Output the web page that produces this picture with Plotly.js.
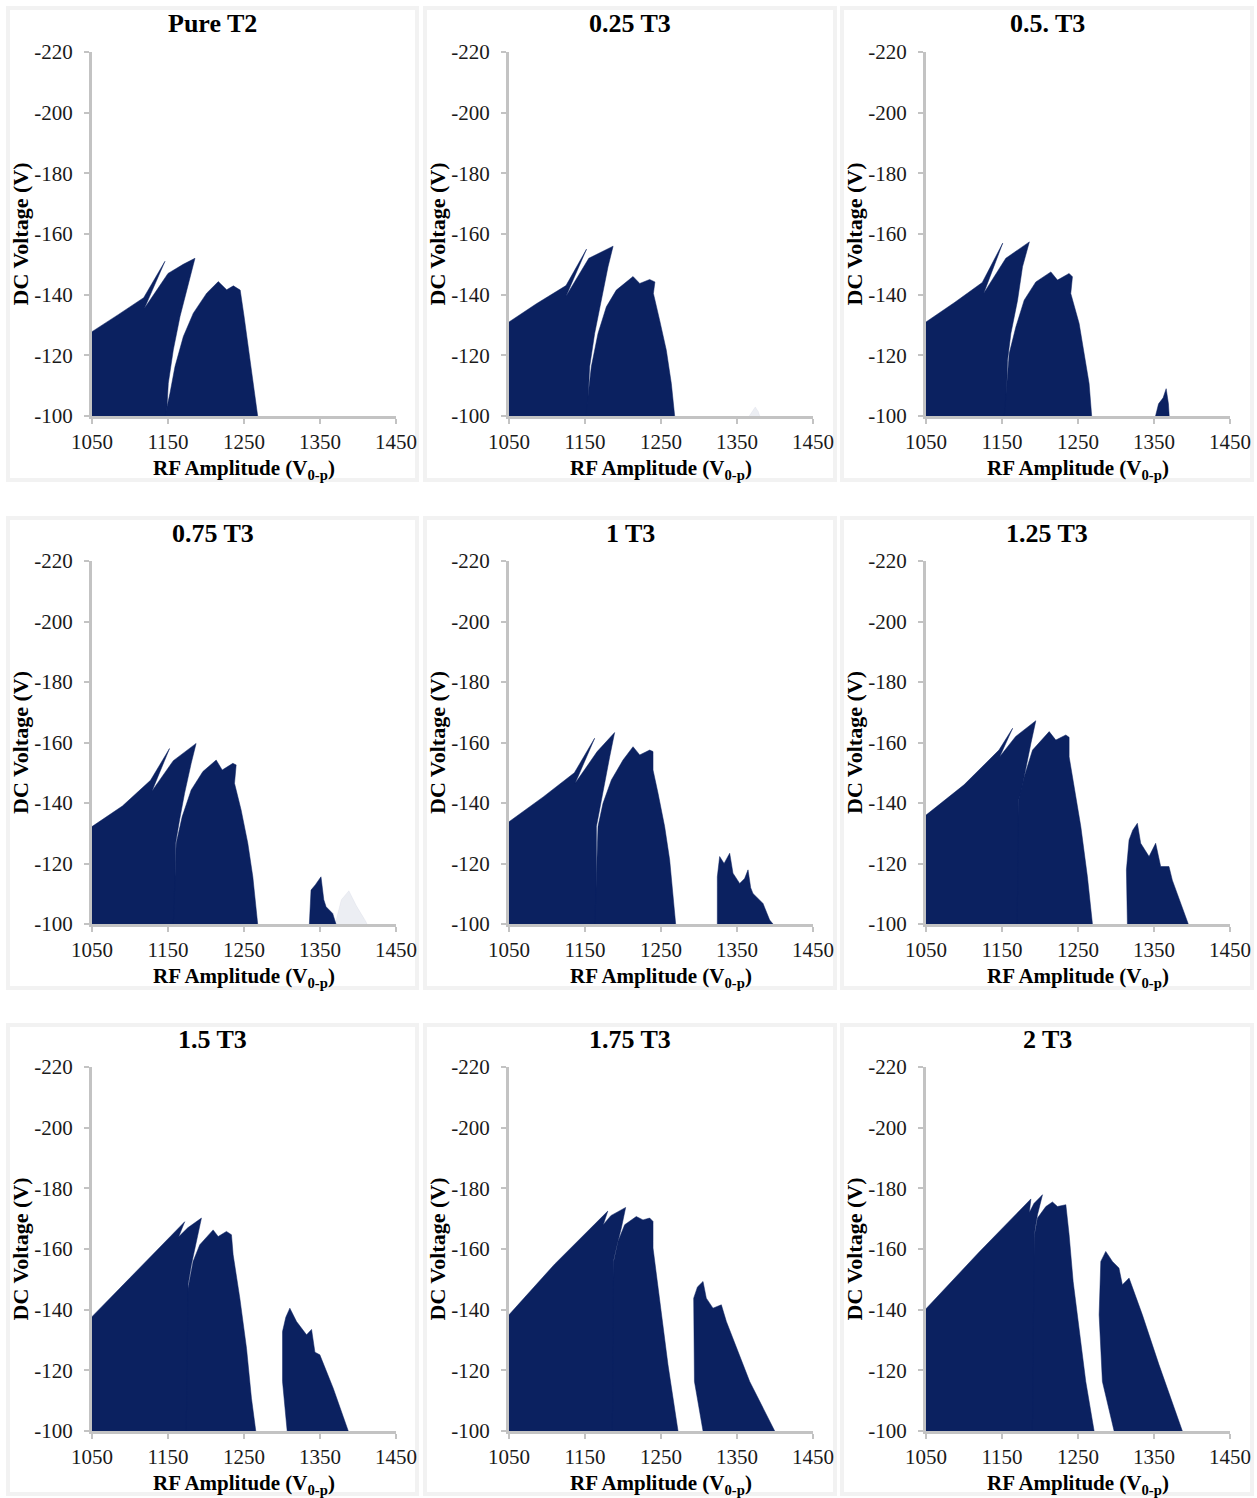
<!DOCTYPE html>
<html>
<head>
<meta charset="utf-8">
<script src="https://cdn.plot.ly/plotly-3.0.1.min.js"></script>
<style>html,body{margin:0;padding:0;background:#fff;}#chart{width:1257px;height:1498px;}</style>
</head>
<body>
<div id="chart"></div>
<script>
// ---------- DATA ----------
const panelTitles = ["Pure T2", "0.25 T3", "0.5. T3", "0.75 T3", "1 T3", "1.25 T3", "1.5 T3", "1.75 T3", "2 T3"];
const xTickVals = [1050, 1150, 1250, 1350, 1450];
const xTickText = ["1050", "1150", "1250", "1350", "1450"];
const yTickVals = [-220, -200, -180, -160, -140, -120, -100];
const yTickText = ["-220", "-200", "-180", "-160", "-140", "-120", "-100"];
const xTitle = "RF Amplitude (V<sub>0-p</sub>)";
const yTitle = "DC Voltage (V)";

// Pure T2
const p1_leftX = [1050, 1050, 1085, 1118, 1146, 1119, 1150, 1170, 1185.5, 1176.8, 1165.8, 1157, 1150.4, 1148];
const p1_leftY = [-100, -127.8, -133.5, -139, -151, -135.5, -147, -150, -152, -143.7, -132.8, -121.8, -110.8, -100];
const p1_midX = [1146, 1152.6, 1159.2, 1170.2, 1183.3, 1200.9, 1216.2, 1227.2, 1236, 1245, 1250, 1256, 1262, 1268];
const p1_midY = [-100, -107.5, -116.3, -126.2, -133.9, -140.5, -144.3, -141.6, -142.9, -141.5, -133, -122, -111, -100];
const p1_islandX = [];
const p1_islandY = [];

// 0.25 T3
const p2_leftX = [1050, 1050, 1086, 1125, 1152, 1125, 1155, 1187, 1180.3, 1171.5, 1162.7, 1156.1, 1153];
const p2_leftY = [-100, -131, -137, -143, -155, -139.5, -152, -156, -149.2, -138.2, -127.2, -116.2, -100];
const p2_midX = [1151, 1158.3, 1167.1, 1178.1, 1191.2, 1213.2, 1222, 1235.1, 1242, 1240, 1248.2, 1257, 1263.6, 1268];
const p2_midY = [-100, -116.2, -127.2, -136, -141.5, -146, -143.7, -145, -144.2, -140.4, -131.6, -121.7, -110.7, -100];
const p2_islandX = [1366, 1370, 1374, 1378, 1380];
const p2_islandY = [-100, -101.5, -103, -101.5, -100];

// 0.5. T3
const p3_leftX = [1050, 1050, 1088, 1124, 1151, 1126, 1155, 1186, 1177, 1170.5, 1161.7, 1157.3, 1155];
const p3_leftY = [-100, -131, -137.5, -144, -157, -140.5, -152, -157.4, -149.2, -138.2, -127.2, -118.4, -100];
const p3_midX = [1153, 1159.5, 1168.3, 1179.2, 1194.5, 1214.3, 1223, 1238.3, 1242.7, 1240.5, 1251.5, 1258, 1264.6, 1268];
const p3_midY = [-100, -120.6, -129.4, -138.2, -144.2, -147.5, -144.8, -147, -145.9, -140.4, -130.5, -120.6, -110.7, -100];
const p3_islandX = [1352, 1356, 1362, 1366, 1369, 1370];
const p3_islandY = [-100, -104, -106, -109, -104, -100];

// 0.75 T3
const p4_leftX = [1050, 1050, 1090, 1127, 1152, 1129, 1157, 1187, 1180.5, 1171.8, 1165.2, 1160, 1159];
const p4_leftY = [-100, -132.2, -139, -147.5, -158, -144, -154, -159.7, -153.1, -143.2, -134.4, -126.7, -100];
const p4_midX = [1157, 1160.8, 1168.7, 1180.5, 1195.9, 1213.4, 1221.3, 1235.3, 1239.7, 1237.5, 1246.2, 1255, 1261.6, 1268];
const p4_midY = [-100, -126.7, -135.5, -144.3, -150.4, -154.2, -150.9, -153.1, -152.6, -146.5, -137.7, -126.7, -115.6, -100];
const p4_islandX = [1336, 1338.2, 1344, 1351.3, 1355, 1358, 1366.7, 1371];
const p4_islandY = [-100, -111.2, -113, -115.6, -108, -105.7, -103.5, -100];
const p4_faintX = [1370, 1378, 1388, 1398, 1410, 1412];
const p4_faintY = [-100, -108, -111, -106, -101, -100];

// 1 T3
const p5_leftX = [1050, 1050, 1095, 1136, 1162.7, 1137, 1166, 1189, 1182.5, 1175.9, 1169.3, 1165, 1165];
const p5_leftY = [-100, -133.8, -142, -150, -161.4, -146.5, -157, -163.3, -155.3, -146.5, -137.7, -132.2, -100];
const p5_midX = [1163, 1167.1, 1173.7, 1184.7, 1200, 1213.2, 1222, 1235.1, 1239.5, 1239.5, 1246.1, 1254.8, 1261.4, 1269.3];
const p5_midY = [-100, -132.2, -139.9, -147.6, -154.2, -158.6, -155.9, -157.5, -157, -150.9, -143.2, -132.2, -121.2, -100];
const p5_islandX = [1324.1, 1324.1, 1327.2, 1333, 1340.4, 1344.7, 1353.5, 1360, 1364.5, 1368, 1371, 1384.2, 1393, 1397.4];
const p5_islandY = [-100, -115.6, -122.3, -120, -123.4, -116.8, -113.4, -115, -117.9, -112, -110.1, -106.8, -101.3, -100];

// 1.25 T3
const p6_leftX = [1050, 1050, 1100, 1146, 1164, 1147, 1168, 1194.5, 1188, 1181.4, 1174.8, 1171.8, 1176];
const p6_leftY = [-100, -136, -146, -157.5, -164.7, -155.3, -162, -167.2, -159.7, -150.9, -143.2, -141, -100];
const p6_midX = [1170, 1171.8, 1179.2, 1190.2, 1212.1, 1220.8, 1234, 1238.3, 1238.3, 1244.9, 1253.7, 1262.4, 1269];
const p6_midY = [-100, -141, -148.7, -157.5, -163.6, -160.8, -162.5, -161.7, -155.3, -145.4, -132.2, -115.6, -100];
const p6_islandX = [1315, 1313.7, 1317.2, 1322, 1328.1, 1332.5, 1343.5, 1352.2, 1358.8, 1369.7, 1374.1, 1395.1];
const p6_islandY = [-100, -117.9, -127.8, -131, -133.3, -126.7, -122.3, -126.7, -119, -119, -114.5, -100];

// 1.5 T3
const p7_leftX = [1050, 1050, 1100, 1160, 1172, 1164, 1176, 1194, 1187.4, 1180.8, 1176.4, 1180];
const p7_leftY = [-100, -137.7, -150.5, -166, -169, -164, -167, -170.2, -162.5, -154.8, -148.2, -100];
const p7_midX = [1174, 1176.4, 1183, 1191.8, 1209.4, 1216, 1226.9, 1233.5, 1235.7, 1244.5, 1253.3, 1259.8, 1265.5];
const p7_midY = [-100, -147.1, -155.9, -161.4, -166.3, -164.1, -165.8, -164.7, -158.1, -143.8, -127.3, -110.8, -100];
const p7_islandX = [1306.8, 1300.7, 1300.7, 1305, 1310.3, 1319.1, 1332.3, 1338.9, 1343.3, 1349.8, 1367.4, 1387.2];
const p7_islandY = [-100, -116.3, -132.8, -137.5, -140.5, -136.1, -131.7, -133.5, -126, -125.1, -114.1, -100];

// 1.75 T3
const p8_leftX = [1050, 1050, 1110, 1170, 1180, 1174, 1184, 1203.5, 1197.8, 1191.2, 1187.7, 1192];
const p8_leftY = [-100, -138.3, -155, -170, -172.5, -168, -171, -173.7, -166.9, -160.3, -156.4, -100];
const p8_midX = [1186, 1187.7, 1193.4, 1202.2, 1217.5, 1226.3, 1235.1, 1239.5, 1239.5, 1248.2, 1259.2, 1272.4];
const p8_midY = [-100, -155.9, -162.5, -168, -170.7, -169.6, -170.2, -169.1, -160.3, -143.8, -121.8, -100];
const p8_islandX = [1305.3, 1294, 1293, 1298, 1305.3, 1309.6, 1318.4, 1329.4, 1336, 1366.7, 1399.6];
const p8_islandY = [-100, -116.3, -143.8, -147.5, -149.3, -143.8, -140.5, -141.6, -136.1, -116.3, -100];

// 2 T3
const p9_leftX = [1050, 1050, 1120, 1180, 1188, 1186, 1192, 1203.3, 1196.7, 1193.7, 1192.4, 1196];
const p9_leftY = [-100, -140.3, -159, -174.5, -176.5, -172, -175, -177.9, -171.3, -166.9, -164.1, -100];
const p9_midX = [1190, 1192.4, 1196.7, 1207.7, 1216.4, 1223, 1234, 1238.3, 1243.6, 1251.5, 1260.2, 1271.2];
const p9_midY = [-100, -164.1, -170.2, -174, -175.5, -174, -174.6, -164.7, -149.3, -132.8, -116.3, -100];
const p9_islandX = [1297.5, 1282.1, 1277.8, 1280, 1286.5, 1295.3, 1303.9, 1308.4, 1317.2, 1334.7, 1356.6, 1387.3];
const p9_islandY = [-100, -116.3, -138.3, -155.9, -159.2, -155.9, -153.7, -148.2, -150.4, -138.3, -121.8, -100];

// ---------- BUILD ----------
const panels = [
  [[p1_leftX, p1_leftY], [p1_midX, p1_midY], [p1_islandX, p1_islandY]],
  [[p2_leftX, p2_leftY], [p2_midX, p2_midY], [p2_islandX, p2_islandY, 'faint']],
  [[p3_leftX, p3_leftY], [p3_midX, p3_midY], [p3_islandX, p3_islandY]],
  [[p4_leftX, p4_leftY], [p4_midX, p4_midY], [p4_islandX, p4_islandY], [p4_faintX, p4_faintY, 'faint']],
  [[p5_leftX, p5_leftY], [p5_midX, p5_midY], [p5_islandX, p5_islandY]],
  [[p6_leftX, p6_leftY], [p6_midX, p6_midY], [p6_islandX, p6_islandY]],
  [[p7_leftX, p7_leftY], [p7_midX, p7_midY], [p7_islandX, p7_islandY]],
  [[p8_leftX, p8_leftY], [p8_midX, p8_midY], [p8_islandX, p8_islandY]],
  [[p9_leftX, p9_leftY], [p9_midX, p9_midY], [p9_islandX, p9_islandY]]
];

const W = 1257, H = 1498;
const FONT = '"Liberation Serif", "Times New Roman", Times, serif';
const NAVY = '#0b2160';
const cols = [[92, 396], [509, 813], [926, 1230]];
const rows = [[52, 416], [561, 924], [1067, 1431]];
const boxX = [[8, 417], [425, 835], [842, 1252]];
const boxY = [[8, 480], [518, 988], [1025, 1494]];

const traces = [];
const layout = {
  width: W, height: H,
  margin: {l: 0, r: 0, t: 0, b: 0},
  paper_bgcolor: '#ffffff', plot_bgcolor: 'rgba(0,0,0,0)',
  showlegend: false,
  annotations: [], shapes: []
};

panels.forEach((regions, i) => {
  const r = Math.floor(i / 3), c = i % 3;
  const s = i === 0 ? '' : String(i + 1);
  regions.forEach(reg => {
    if (!reg[0].length) return;
    const faint = reg[2] === 'faint';
    traces.push({
      type: 'scatter', mode: 'lines', x: reg[0], y: reg[1],
      xaxis: 'x' + s, yaxis: 'y' + s,
      fill: 'toself',
      fillcolor: faint ? 'rgba(11,33,96,0.08)' : NAVY,
      line: {color: faint ? 'rgba(11,33,96,0.08)' : NAVY, width: 0.5},
      hoverinfo: 'skip'
    });
  });
  const axCommon = {
    showgrid: false, zeroline: false, showline: true,
    linecolor: '#c3c3c3', linewidth: 3,
    ticks: 'outside', ticklen: 5, tickwidth: 2, tickcolor: '#c3c3c3',
    tickfont: {family: FONT, size: 21, color: '#1a1a1a'},
    tickmode: 'array', fixedrange: true, automargin: false
  };
  layout['xaxis' + s] = Object.assign({}, axCommon, {
    domain: [cols[c][0] / W, cols[c][1] / W], range: [1050, 1450],
    anchor: 'y' + s, tickvals: xTickVals, ticktext: xTickText, ticklabelstandoff: 0,
    title: {text: '<b>' + xTitle + '</b>', font: {family: FONT, size: 21, color: '#000'}, standoff: 8}
  });
  layout['yaxis' + s] = Object.assign({}, axCommon, {
    domain: [1 - rows[r][1] / H, 1 - rows[r][0] / H], range: [-100, -220],
    anchor: 'x' + s, tickvals: yTickVals, ticktext: yTickText, ticklabelstandoff: 7,
    title: {text: '<b>' + yTitle + '</b>', font: {family: FONT, size: 22, color: '#000'}, standoff: 0}
  });
  // panel frame
  layout.shapes.push({
    type: 'rect', xref: 'paper', yref: 'paper', layer: 'below',
    x0: boxX[c][0] / W, x1: boxX[c][1] / W, y0: 1 - boxY[r][1] / H, y1: 1 - boxY[r][0] / H,
    line: {color: '#f2f2f2', width: 4}, fillcolor: 'rgba(0,0,0,0)'
  });
  // panel title
  layout.annotations.push({
    xref: 'paper', yref: 'paper', x: (boxX[c][0] + boxX[c][1]) / 2 / W, y: 1 - (rows[r][0] - 28) / H,
    xanchor: 'center', yanchor: 'middle', showarrow: false,
    text: '<b>' + panelTitles[i] + '</b>', font: {family: FONT, size: 26, color: '#000'}
  });
});

Plotly.newPlot('chart', traces, layout, {staticPlot: true, displayModeBar: false});
</script>
</body>
</html>
